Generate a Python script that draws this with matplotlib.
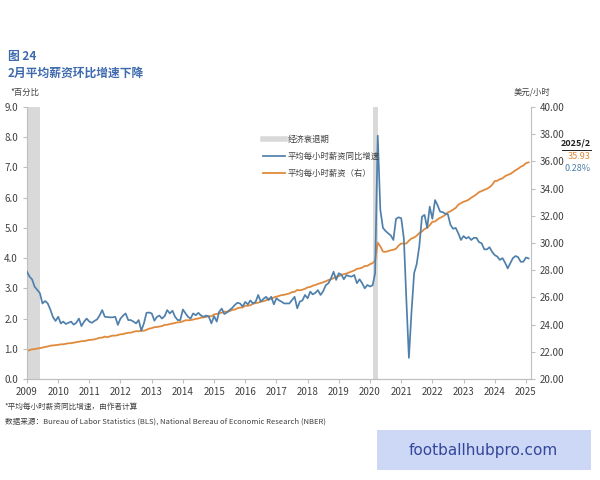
import numpy as np
import pandas as pd
import matplotlib
matplotlib.use("Agg")
import matplotlib.pyplot as plt
import matplotlib.dates as mdates
from matplotlib.lines import Line2D
from matplotlib.patches import Rectangle

plt.rcParams['font.family'] = ['Noto Sans CJK SC', 'DejaVu Sans']

# 平均每小时薪资同比增速 (%), 月度 2009/1 - 2025/2
yoy = [
    3.55, 3.38, 3.30, 3.05, 2.95, 2.84, 2.50, 2.58, 2.50, 2.30, 2.05, 1.92,   # 2009
    2.06, 1.84, 1.90, 1.82, 1.86, 1.90, 1.80, 1.86, 2.00, 1.75, 1.90, 2.00,   # 2010
    1.90, 1.86, 1.92, 1.97, 2.10, 2.28, 2.06, 2.05, 2.04, 2.04, 2.06, 1.79,   # 2011
    2.00, 2.10, 2.17, 1.95, 1.95, 1.90, 1.84, 1.95, 1.60, 1.84, 2.19, 2.20,   # 2012
    2.17, 1.93, 2.05, 2.10, 2.00, 2.08, 2.28, 2.17, 2.26, 2.06, 1.95, 1.95,   # 2013
    2.30, 2.17, 2.06, 2.00, 2.17, 2.11, 2.19, 2.10, 2.06, 2.10, 2.06, 1.84,   # 2014
    2.08, 1.90, 2.22, 2.33, 2.15, 2.20, 2.28, 2.35, 2.45, 2.52, 2.50, 2.40,   # 2015
    2.55, 2.47, 2.60, 2.50, 2.55, 2.78, 2.56, 2.65, 2.72, 2.61, 2.72, 2.47,   # 2016
    2.67, 2.60, 2.56, 2.50, 2.50, 2.50, 2.61, 2.72, 2.34, 2.56, 2.60, 2.78,   # 2017
    2.67, 2.89, 2.80, 2.85, 2.94, 2.78, 2.90, 3.10, 3.17, 3.33, 3.55, 3.28,   # 2018
    3.50, 3.45, 3.30, 3.44, 3.40, 3.39, 3.44, 3.17, 3.30, 3.17, 3.00, 3.11,   # 2019
    3.06, 3.10, 3.50, 8.05, 5.60, 5.00, 4.90, 4.82, 4.75, 4.60, 5.30, 5.35,   # 2020
    5.32, 4.65, 2.70, 0.70, 2.20, 3.50, 3.80, 4.40, 5.37, 5.43, 5.00, 5.70,   # 2021
    5.30, 5.92, 5.76, 5.54, 5.52, 5.47, 5.45, 5.10, 4.97, 5.00, 4.82, 4.60,   # 2022
    4.73, 4.65, 4.70, 4.60, 4.67, 4.67, 4.53, 4.49, 4.29, 4.29, 4.36, 4.21,   # 2023
    4.10, 4.05, 3.94, 4.00, 3.85, 3.66, 3.83, 4.00, 4.07, 4.03, 3.88, 3.88,   # 2024
    4.02, 3.99,                                                               # 2025
]

# 平均每小时薪资 (美元/小时)
ahe = [
    22.06, 22.13, 22.18, 22.20, 22.24, 22.27, 22.31, 22.36, 22.39, 22.45, 22.47, 22.49,
    22.51, 22.55, 22.55, 22.59, 22.63, 22.63, 22.67, 22.71, 22.74, 22.78, 22.79, 22.83,
    22.87, 22.89, 22.91, 22.97, 23.03, 23.04, 23.12, 23.07, 23.14, 23.19, 23.19, 23.23,
    23.29, 23.30, 23.36, 23.40, 23.41, 23.47, 23.52, 23.51, 23.55, 23.55, 23.62, 23.70,
    23.74, 23.81, 23.82, 23.86, 23.89, 23.98, 23.99, 24.04, 24.08, 24.12, 24.17, 24.18,
    24.24, 24.32, 24.32, 24.33, 24.37, 24.42, 24.45, 24.51, 24.53, 24.57, 24.63, 24.61,
    24.75, 24.78, 24.84, 24.87, 24.95, 24.95, 24.99, 25.08, 25.11, 25.20, 25.25, 25.26,
    25.39, 25.38, 25.43, 25.53, 25.59, 25.61, 25.69, 25.72, 25.78, 25.92, 25.89, 26.00,
    26.05, 26.11, 26.17, 26.19, 26.24, 26.29, 26.39, 26.41, 26.55, 26.52, 26.57, 26.63,
    26.74, 26.77, 26.86, 26.91, 26.99, 27.05, 27.11, 27.18, 27.28, 27.33, 27.42, 27.53,
    27.56, 27.66, 27.71, 27.76, 27.83, 27.90, 27.98, 28.10, 28.13, 28.19, 28.31, 28.32,
    28.44, 28.52, 28.70, 30.03, 29.75, 29.37, 29.35, 29.40, 29.47, 29.50, 29.58, 29.81,
    29.96, 29.96, 29.96, 30.17, 30.33, 30.40, 30.54, 30.73, 30.85, 31.03, 31.12, 31.31,
    31.56, 31.58, 31.73, 31.85, 31.94, 32.07, 32.25, 32.33, 32.46, 32.58, 32.82, 32.93,
    33.03, 33.10, 33.18, 33.33, 33.44, 33.58, 33.74, 33.82, 33.91, 33.98, 34.10, 34.27,
    34.55, 34.58, 34.69, 34.75, 34.91, 35.01, 35.07, 35.21, 35.35, 35.46, 35.61, 35.69,
    35.87, 35.93,
]

dates = pd.date_range('2009-01-01', periods=len(yoy), freq='MS')

# NBER 经济衰退期 (图中可见部分)
rec_start = ['2009-01-01', '2020-02-01']
rec_end = ['2009-06-01', '2020-04-01']

blue = '#4F80AC'
orange = '#E08A3C'
grey_rec = '#D9D9D9'
axis_col = '#BFBFBF'
txt_col = '#404040'

fig = plt.figure(figsize=(6, 4.8), dpi=100)
ax = fig.add_axes([0.045, 0.2104, 0.84, 0.5667])
ax2 = ax.twinx()

# 衰退期阴影放在右轴，位于两条线之下
for s, e in zip(rec_start, rec_end):
    ax2.axvspan(pd.Timestamp(s), pd.Timestamp(e), color=grey_rec, lw=0, zorder=0)

ax.plot(dates, yoy, color=blue, lw=1.25, zorder=3)
ax2.plot(dates, ahe, color=orange, lw=1.3, zorder=2)

ax.set_zorder(ax2.get_zorder() + 1)
ax.patch.set_visible(False)

ax.set_xlim(pd.Timestamp('2009-01-01'), pd.Timestamp('2025-03-01'))
ax.set_ylim(0, 9)
ax.set_yticks(np.arange(0, 9.1, 1))
ax.yaxis.set_major_formatter(matplotlib.ticker.FormatStrFormatter('%.1f'))
ax2.set_ylim(20, 40)
ax2.set_yticks(np.arange(20, 40.1, 2))
ax2.yaxis.set_major_formatter(matplotlib.ticker.FormatStrFormatter('%.2f'))

ax.xaxis.set_major_locator(mdates.YearLocator())
ax.xaxis.set_major_formatter(mdates.DateFormatter('%Y'))

for a in (ax, ax2):
    a.spines['top'].set_visible(False)
    for sp in a.spines.values():
        sp.set_color(axis_col)
        sp.set_linewidth(0.8)
    a.tick_params(colors=axis_col, labelcolor=txt_col, labelsize=7, length=3, width=0.8)
ax.spines['right'].set_visible(False)
ax2.spines['left'].set_visible(False)
ax.tick_params(axis='x', pad=3)

# 图例
handles = [
    Line2D([], [], color=grey_rec, lw=4),
    Line2D([], [], color=blue, lw=1.25),
    Line2D([], [], color=orange, lw=1.3),
]
labels = ['经济衰退期', '平均每小时薪资同比增速', '平均每小时薪资（右）']
fig.legend(handles, labels, loc='upper left', bbox_to_anchor=(0.432, 0.727),
           frameon=False, fontsize=6, handlelength=2.6, handletextpad=0.35,
           labelspacing=0.95, borderpad=0, labelcolor=txt_col)

# 标题与注释
fig.text(0.013, 0.882, '图 24', fontsize=8.5, fontweight='bold', color='#3F6BAE', va='center')
fig.text(0.013, 0.848, '2月平均薪资环比增速下降', fontsize=8.5, fontweight='bold',
         color='#3F6BAE', va='center')
fig.text(0.018, 0.808, '*百分比', fontsize=6, color=txt_col, va='center')
fig.text(0.887, 0.808, '美元/小时', fontsize=6, color=txt_col, va='center', ha='center')

fig.text(0.985, 0.702, '2025/2', fontsize=6.5, fontweight='bold', color='#222222',
         va='center', ha='right')
fig.add_artist(Line2D([0.937, 0.985], [0.687, 0.687], color='#222222', lw=0.7,
                      transform=fig.transFigure))
fig.text(0.985, 0.673, '35.93', fontsize=6.5, color=orange, va='center', ha='right')
fig.text(0.985, 0.648, '0.28%', fontsize=6.5, color=blue, va='center', ha='right')

fig.text(0.008, 0.152, '*平均每小时薪资同比增速，由作者计算', fontsize=5.5, color=txt_col, va='center')
fig.text(0.008, 0.121, '数据来源：Bureau of Labor Statistics (BLS), National Bereau of Economic Research (NBER)',
         fontsize=5.5, color=txt_col, va='center')

# 水印
fig.patches.append(Rectangle((0.628, 0.021), 0.357, 0.083, transform=fig.transFigure,
                             facecolor='#CCD8F6', edgecolor='none', zorder=5))
fig.text(0.806, 0.0625, 'footballhubpro.com', fontsize=11, color='#34479A',
         va='center', ha='center', family='DejaVu Sans', zorder=6)

fig.savefig('out.png', dpi=100)
